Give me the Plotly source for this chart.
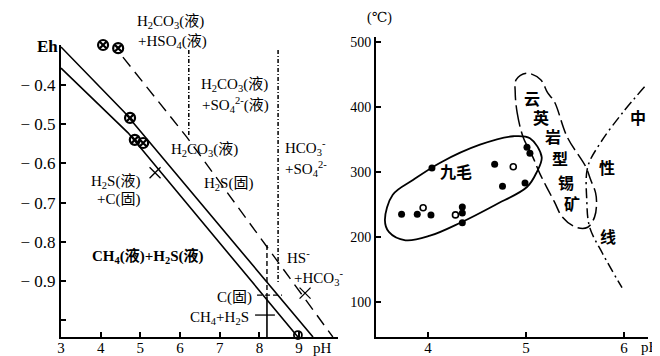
import plotly.graph_objects as go

# page body has an 8px margin; figure size reduced so that it ends at the window edge
OFF = 8
W, H = 660 - OFF, 356 - OFF
SERIF = "Liberation Serif, DejaVu Serif, Noto Sans CJK SC"
CJK = "Noto Sans CJK SC, Liberation Serif"

# ---------------- left panel data (pH vs Eh) ----------------
upper_ph = [3.0, 4.61, 9.35]
upper_eh = [-0.303, -0.471, -1.043]
lower_ph = [3.0, 4.69, 8.97]
lower_eh = [-0.357, -0.522, -1.043]
dash_ph = [4.56, 6.17, 9.85]
dash_eh = [-0.329, -0.533, -1.043]
v1_ph = [6.22, 6.22]
v1_eh = [-0.311, -0.533]
v2_ph = [8.47, 8.47]
v2_eh = [-0.311, -0.903]
v3a_ph = [8.19, 8.19]
v3a_eh = [-0.808, -0.94]
v3b_ph = [8.19, 8.19]
v3b_eh = [-0.94, -1.043]
h1_ph = [7.94, 8.57]
h1_eh = [-0.936, -0.936]
h2_ph = [7.89, 8.39]
h2_eh = [-0.987, -0.987]
mk_ph = [4.06, 4.36, 4.44, 4.74, 4.86, 5.07]
mk_eh = [-0.298, -0.278, -0.306, -0.484, -0.540, -0.548]
oc_ph = [8.97]
oc_eh = [-1.038]
x_ph = [9.15, 5.37]
x_eh = [-0.931, -0.624]
left_xticks = [3, 4, 5, 6, 7, 8, 9]
left_yticks = [-0.4, -0.5, -0.6, -0.7, -0.8, -0.9, -1.0]
left_ytext = ["− 0.4", "− 0.5", "− 0.6", "− 0.7", "− 0.8", "− 0.9", ""]

# ---------------- right panel data (pH vs T) ----------------
jm_ph = [3.56, 3.64, 3.85, 4.12, 4.53, 4.87, 5.04, 5.16, 5.11, 5.01, 4.68, 4.33, 4.02, 3.77, 3.60, 3.56]
jm_t = [226, 265, 288, 314, 342, 355, 352, 323, 300, 277, 249, 222, 202, 195, 208, 226]
gr_ph = [4.89, 4.91, 4.97, 5.07, 5.14, 5.29, 5.37, 5.51, 5.63, 5.70, 5.72, 5.71, 5.66, 5.61, 5.42, 5.29, 5.22, 5.15, 5.01, 4.90, 4.89]
gr_t = [422, 391, 354, 323, 298, 254, 231, 215, 215, 231, 252, 268, 288, 308, 354, 408, 422, 442, 452, 442, 422]
neu_ph = [6.21, 5.99, 5.76, 5.63, 5.62, 5.65, 5.78, 5.98]
neu_t = [431, 392, 345, 308, 257, 215, 175, 122]
filled_ph = [3.73, 3.89, 4.03, 4.35, 4.35, 4.35, 4.76, 4.99, 4.04, 4.68, 5.01, 5.04]
filled_t = [235, 235, 234, 246, 237, 222, 278, 283, 306, 312, 338, 329]
open_ph = [3.95, 4.28, 4.87]
open_t = [245, 234, 308]
right_xticks = [4, 5, 6]
right_yticks = [100, 200, 300, 400, 500]

fig = go.Figure()

def line(x, y, xa, ya, dash="solid", width=1.6, shape="linear"):
    fig.add_trace(go.Scatter(x=x, y=y, mode="lines", xaxis=xa, yaxis=ya,
                             line=dict(color="black", width=width, dash=dash, shape=shape),
                             showlegend=False, hoverinfo="skip", cliponaxis=False))

# left
line(upper_ph, upper_eh, "x", "y")
line(lower_ph, lower_eh, "x", "y")
line(dash_ph, dash_eh, "x", "y", dash="12px,7px", width=1.4)
line(v1_ph, v1_eh, "x", "y", dash="4px,2px,1px,2px", width=1.5)
line(v2_ph, v2_eh, "x", "y", dash="4px,2px,1px,2px", width=1.5)
line(v3a_ph, v3a_eh, "x", "y", dash="5px,3px", width=1.4)
line(v3b_ph, v3b_eh, "x", "y", width=1.6)
line(h1_ph, h1_eh, "x", "y", dash="5px,3px", width=1.3)
line(h2_ph, h2_eh, "x", "y", width=1.3)
fig.add_trace(go.Scatter(x=mk_ph, y=mk_eh, mode="markers", xaxis="x", yaxis="y",
                         marker=dict(symbol="circle-x-open", size=10, color="black", line=dict(width=2.2)),
                         showlegend=False, cliponaxis=False))
fig.add_trace(go.Scatter(x=oc_ph, y=oc_eh, mode="markers", xaxis="x", yaxis="y",
                         marker=dict(symbol="circle-open", size=8, color="black", line=dict(width=1.8)),
                         showlegend=False, cliponaxis=False))
fig.add_trace(go.Scatter(x=x_ph, y=x_eh, mode="markers", xaxis="x", yaxis="y",
                         marker=dict(symbol="x-thin-open", size=11, color="black", line=dict(width=1.3)),
                         showlegend=False, cliponaxis=False))

# right
line(jm_ph, jm_t, "x2", "y2", width=1.8, shape="spline")
line(gr_ph, gr_t, "x2", "y2", dash="14px,5px", width=1.5, shape="spline")
line(neu_ph, neu_t, "x2", "y2", dash="10px,4px,2px,4px", width=1.5, shape="spline")
fig.add_trace(go.Scatter(x=filled_ph, y=filled_t, mode="markers", xaxis="x2", yaxis="y2",
                         marker=dict(symbol="circle", size=7, color="black"),
                         showlegend=False, cliponaxis=False))
fig.add_trace(go.Scatter(x=open_ph, y=open_t, mode="markers", xaxis="x2", yaxis="y2",
                         marker=dict(symbol="circle-open", size=6, color="black", line=dict(width=1.6)),
                         showlegend=False, cliponaxis=False))

axis_common = dict(showline=True, linecolor="black", linewidth=2, showgrid=False, zeroline=False,
                   ticks="inside", ticklen=5, tickwidth=2, tickcolor="black", automargin=False)

def fx(x):
    return (x - OFF) / W

def fy(y):
    return 1 - (y - OFF) / H

fig.update_layout(
    template="none",
    width=W, height=H, autosize=False,
    margin=dict(l=0, r=0, t=0, b=0),
    paper_bgcolor="white", plot_bgcolor="white",
    xaxis=dict(domain=[fx(61), fx(338)], range=[3, 9.98], anchor="y",
               tickvals=left_xticks, tickfont=dict(family=SERIF, size=15, color="black"),
               ticklabelstandoff=-4, **axis_common),
    yaxis=dict(domain=[fy(337), fy(45)], range=[-1.043, -0.298], anchor="x",
               tickvals=left_yticks, ticktext=left_ytext,
               tickfont=dict(family=SERIF, size=17, color="black"), **axis_common),
    xaxis2=dict(domain=[fx(376), fx(648)], range=[3.469, 6.245], anchor="y2",
                tickvals=right_xticks, tickfont=dict(family=SERIF, size=15, color="black"),
                ticklabelstandoff=-4, **axis_common),
    yaxis2=dict(domain=[fy(337), fy(37)], range=[46.2, 507.7], anchor="x2",
                tickvals=right_yticks, tickfont=dict(family=SERIF, size=14, color="black"),
                **axis_common),
)

def label(text, x, y, size=15, xanchor="center", family=SERIF, bold=False):
    if bold:
        text = "<b>" + text + "</b>"
    fig.add_annotation(text=text, x=fx(x), y=fy(y), xref="paper", yref="paper", showarrow=False,
                       xanchor=xanchor, yanchor="middle",
                       font=dict(family=family, size=size, color="black"))

# left labels
label("Eh", 47, 47, size=17, bold=True)
label("H<sub>2</sub>CO<sub>3</sub>(液)", 170, 22)
label("+HSO<sub>4</sub>(液)", 172, 42)
label("H<sub>2</sub>CO<sub>3</sub>(液)", 234, 85)
label("+SO<sub>4</sub><sup>2-</sup>(液)", 235, 105)
label("H<sub>2</sub>CO<sub>3</sub>(液)", 205, 150)
label("HCO<sub>3</sub><sup>-</sup>", 283, 148, xanchor="left")
label("+SO<sub>4</sub><sup>2-</sup>", 283, 169, xanchor="left")
label("H<sub>2</sub>S(液)", 115, 182)
label("+C(固)", 118, 199)
label("H<sub>2</sub>S(固)", 228, 184)
label("CH<sub>4</sub>(液)+H<sub>2</sub>S(液)", 148, 256, size=15, bold=True)
label("HS<sup>-</sup>", 285, 257, xanchor="left")
label("+HCO<sub>3</sub><sup>-</sup>", 292, 278, xanchor="left")
label("C(固)", 234, 297)
label("CH<sub>4</sub>+H<sub>2</sub>S", 219, 318)
label("pH", 322, 348, size=15)

# right labels
label("(℃)", 379, 18, size=14)
label("九毛", 456, 171, size=16, family=CJK, bold=True)
for t, x, y in [("云", 532, 98), ("英", 541, 117), ("岩", 553, 136), ("型", 560, 158),
                ("锡", 566, 182), ("矿", 572, 203), ("中", 638, 117), ("性", 607, 167), ("线", 608, 236)]:
    label(t, x, y, size=16, family=CJK, bold=True)
label("pH", 650, 347, size=15)

fig.write_html("out.html")
